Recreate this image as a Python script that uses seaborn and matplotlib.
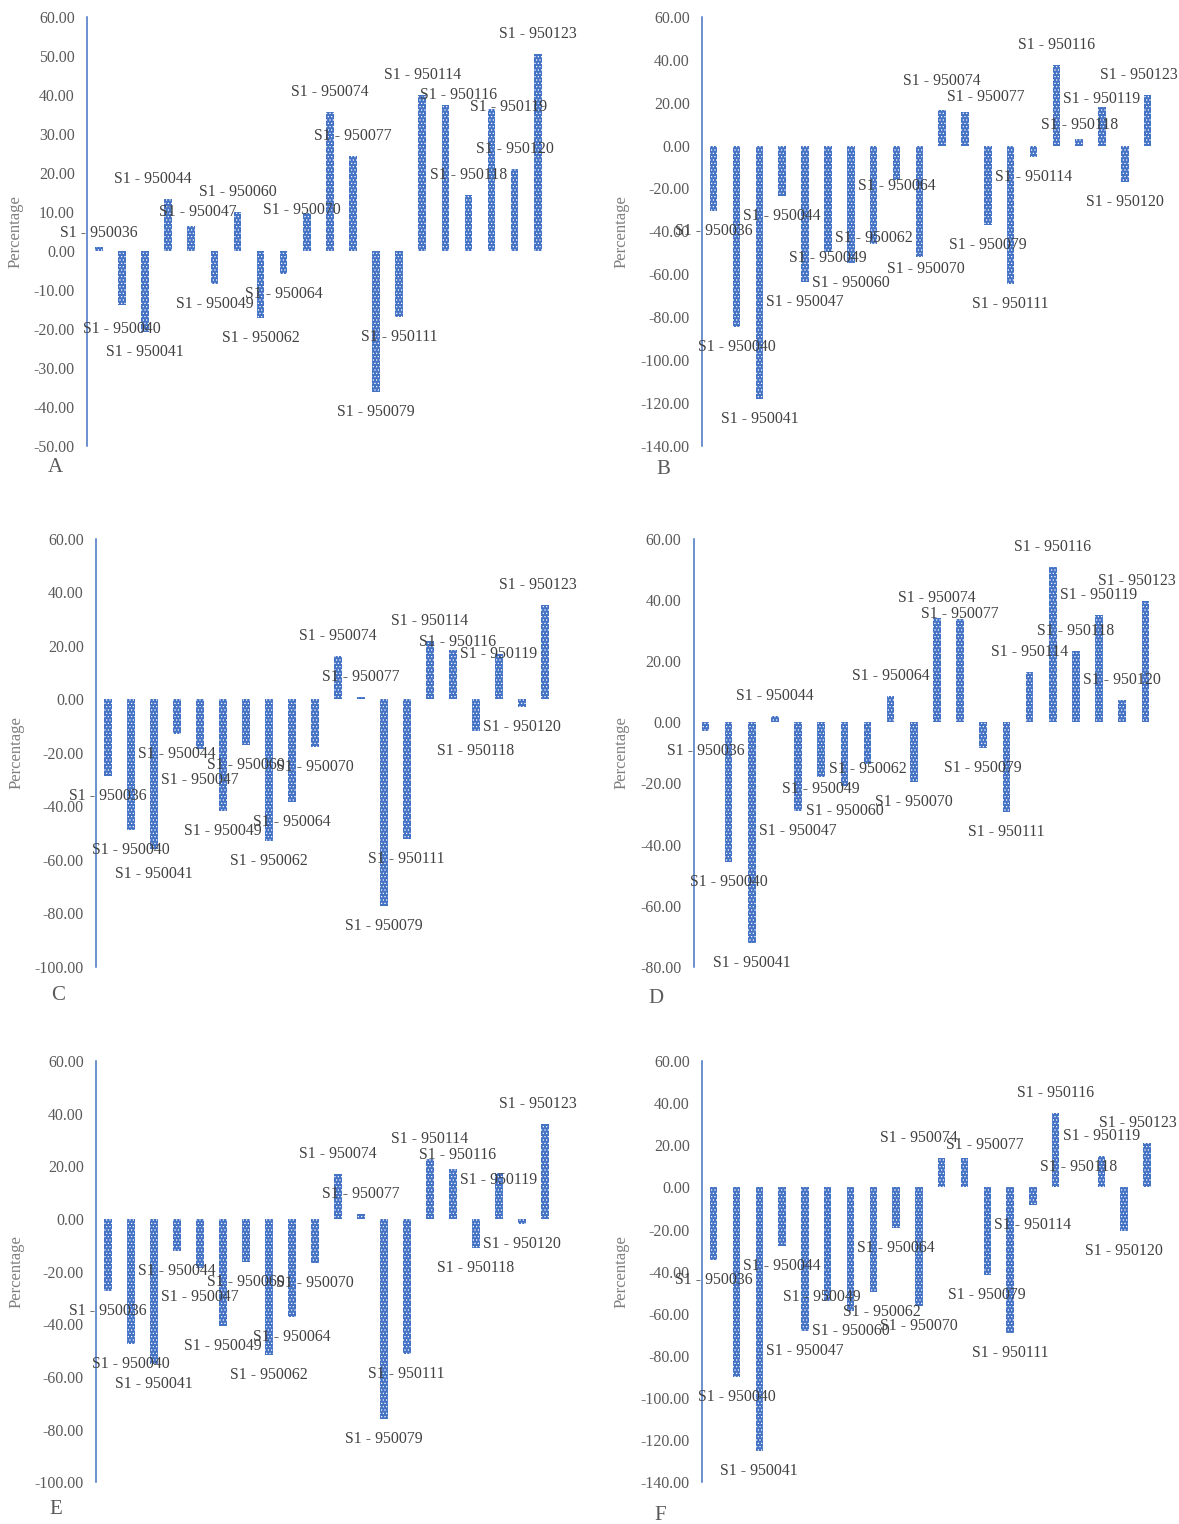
import numpy as np
import pandas as pd
import matplotlib
matplotlib.use("Agg")
import matplotlib.pyplot as plt
from matplotlib.ticker import FuncFormatter
import seaborn as sns

# Sample identifiers (same order in every panel)
samples = ["950036", "950040", "950041", "950044", "950047", "950049", "950060",
           "950062", "950064", "950070", "950074", "950077", "950079", "950111",
           "950114", "950116", "950118", "950119", "950120", "950123"]
sample_labels = [f"S1 - {s}" for s in samples]

# Percentage change per sample, one list per panel
panel_a = [1.0, -13.8, -20.8, 13.2, 6.4, -8.5, 10.0, -17.2, -6.0, 9.8,
           35.6, 24.3, -36.3, -16.9, 39.9, 37.4, 14.3, 36.3, 21.1, 50.6]
panel_b = [-30.6, -84.8, -118.4, -23.6, -63.8, -49.7, -54.7, -45.8, -16.1, -52.0,
           16.7, 15.9, -37.2, -64.5, -5.5, 37.5, 3.0, 17.8, -16.9, 23.8]
panel_c = [-28.6, -48.7, -55.9, -12.8, -18.5, -41.6, -17.1, -53.0, -38.3, -17.8,
           16.4, 0.9, -77.4, -52.2, 21.7, 18.3, -11.8, 17.0, -2.9, 35.4]
panel_d = [-2.9, -45.6, -72.3, 2.0, -29.1, -18.0, -20.7, -13.8, 8.5, -19.6,
           34.1, 33.9, -8.4, -29.4, 16.4, 50.7, 23.2, 35.0, 7.4, 39.8]
panel_e = [-27.4, -47.3, -55.2, -12.0, -18.6, -40.7, -16.3, -51.8, -37.1, -16.9,
           17.0, 1.9, -76.0, -51.4, 22.7, 18.9, -11.2, 17.4, -1.8, 36.0]
panel_f = [-34.3, -90.2, -125.0, -27.7, -68.0, -53.8, -58.5, -49.8, -19.5, -56.2,
           13.8, 13.8, -41.6, -69.1, -8.2, 35.1, 0.0, 14.7, -20.9, 21.0]

# Y-axis ranges and tick steps
ylims = {"A": (-50, 60), "B": (-140, 60), "C": (-100, 60),
         "D": (-80, 60), "E": (-100, 60), "F": (-140, 60)}
ysteps = {"A": 10, "B": 20, "C": 20, "D": 20, "E": 20, "F": 20}

W, H = 1179, 1524
BAR_COLOR = "#4472C4"
TEXT_DARK = "#404040"
TEXT_GRAY = "#595959"

# Layout in pixels: (left, top, width, bottom), letter position, y-label x
layout = {
    "A": dict(rect=(87.3, 17.0, 462.0, 445.7), letter=(55, 468), ylab_x=16),
    "B": dict(rect=(702.3, 17.0, 456.8, 445.7), letter=(663, 470), ylab_x=622),
    "C": dict(rect=(96.3, 539.0, 460.0, 966.7), letter=(58, 995), ylab_x=17),
    "D": dict(rect=(693.9, 539.0, 463.0, 966.7), letter=(656, 999), ylab_x=622),
    "E": dict(rect=(96.3, 1061.0, 460.0, 1482.3), letter=(56, 1510), ylab_x=17),
    "F": dict(rect=(702.3, 1061.0, 456.0, 1482.3), letter=(660, 1515), ylab_x=622),
}

# Data-label nudges (dx right, dy down, in pixels) where labels were moved apart
nudges = {
    "A": {"950036": (0, 6), "950040": (0, 4), "950044": (-15, 0), "950047": (7, 6),
          "950070": (-5, 17), "950116": (13, 10), "950119": (17, 18)},
    "B": {"950049": (0, -14), "950062": (0, -26), "950064": (0, -14), "950070": (7, -8),
          "950074": (0, -9), "950077": (21, 5), "950118": (0, 6), "950119": (0, 12),
          "950123": (-9, 0)},
    "C": {"950041": (0, 5), "950047": (0, 11), "950116": (5, 12), "950119": (0, 20),
          "950123": (-7, 0)},
    "D": {"950049": (0, -8), "950060": (0, 5), "950062": (0, -15), "950077": (0, 15),
          "950123": (-8, 0)},
    "E": {"950047": (0, 9), "950116": (5, 6), "950119": (0, 27), "950123": (-7, 0)},
    "F": {"950049": (-6, -24), "950062": (9, 0), "950074": (-23, 0), "950077": (20, 7),
          "950123": (-9, 0)},
}

panels = [("A", panel_a), ("B", panel_b), ("C", panel_c),
          ("D", panel_d), ("E", panel_e), ("F", panel_f)]

sns.set_style("white")
plt.rcParams["font.family"] = ["Liberation Serif", "DejaVu Serif"]
plt.rcParams["axes.unicode_minus"] = False
plt.rcParams["hatch.color"] = "white"
plt.rcParams["hatch.linewidth"] = 0.5

fig = plt.figure(figsize=(W / 100, H / 100), dpi=100)
fig.patch.set_facecolor("white")

LABEL_GAP = 20  # pixels between bar end and label centre
two_decimals = FuncFormatter(lambda v, pos: f"{v:.2f}")

for letter, values in panels:
    lay = layout[letter]
    x0, ytop, w, ybot = lay["rect"]
    ax = fig.add_axes([x0 / W, 1 - ybot / H, w / W, (ybot - ytop) / H])

    df = pd.DataFrame({"sample": sample_labels, "change": values})
    sns.barplot(data=df, x="sample", y="change", order=sample_labels,
                color=BAR_COLOR, saturation=1, width=0.33, errorbar=None, ax=ax)
    for p in ax.patches:
        p.set_hatch(".....")
        p.set_edgecolor("white")
        p.set_linewidth(0)

    lo, hi = ylims[letter]
    ax.set_ylim(lo, hi)
    ax.set_xlim(-0.5, len(samples) - 0.5)
    ax.set_yticks(np.arange(lo, hi + 0.1, ysteps[letter]))
    ax.yaxis.set_major_formatter(two_decimals)
    ax.tick_params(axis="y", length=0, pad=9, labelsize=11.4, labelcolor=TEXT_GRAY)
    ax.tick_params(axis="x", length=0, labelbottom=False)
    ax.set_xlabel("")
    ax.set_ylabel("")
    for side in ("top", "right", "bottom"):
        ax.spines[side].set_visible(False)
    ax.spines["left"].set_color(BAR_COLOR)
    ax.spines["left"].set_linewidth(1.1)
    ax.set_facecolor("none")

    # Category data labels beyond each bar end
    for i, (lab, sid, v) in enumerate(zip(sample_labels, samples, values)):
        sign = 1 if v >= 0 else -1
        dx, dy = nudges[letter].get(sid, (0, 0))
        ax.annotate(lab, xy=(i, v), xytext=(dx, sign * LABEL_GAP - dy),
                    textcoords="offset pixels", ha="center", va="center",
                    fontsize=11.4, color=TEXT_DARK, annotation_clip=False)

    # Rotated axis title and panel letter
    ymid = 1 - (ytop + ybot) / 2 / H
    fig.text(lay["ylab_x"] / W, ymid, "Percentage", rotation=90, ha="center",
             va="center", fontsize=12, color="#7f7f7f")
    lx, ly = lay["letter"]
    fig.text(lx / W, 1 - ly / H, letter, ha="center", va="center",
             fontsize=15, color=TEXT_GRAY)

fig.savefig("out.png", dpi=100, facecolor="white")
